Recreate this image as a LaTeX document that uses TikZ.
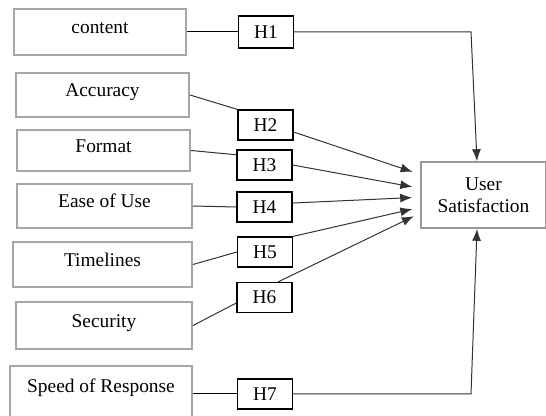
\documentclass[tikz,border=0pt]{standalone}
\usepackage{fontspec}
\setmainfont{Liberation Serif}
\usetikzlibrary{arrows.meta}

\begin{document}
\begin{tikzpicture}[x=0.5pt, y=-0.5pt, %pixel-like units
  font=\fontsize{9.7}{11}\selectfont,
  factor/.style={draw=black!35, line width=1pt, inner sep=0pt, text height=7pt, text depth=5pt},
  hyp/.style={draw, line width=0.6pt, inner sep=0pt, minimum width=27.5pt, minimum height=15pt},
  link/.style={draw=black!80, line width=0.5pt},
  arr/.style={link, -{Latex[length=6pt,width=4.5pt]}}]
  \useasboundingbox (0,0) rectangle (546,416);

  % Factor boxes
  \node[factor, minimum width=86pt, minimum height=23pt] (content) at (100,32) {content};
  \node[factor, minimum width=86.5pt, minimum height=22pt] (accuracy) at (102.5,95) {Accuracy};
  \node[factor, minimum width=86.5pt, minimum height=20.5pt] (format) at (103.5,150.5) {Format};
  \node[factor, minimum width=87.5pt, minimum height=22pt] (ease) at (104.5,206) {Ease of Use};
  \node[factor, minimum width=89.5pt, minimum height=22.5pt] (timelines) at (102.5,264.5) {Timelines};
  \node[factor, minimum width=88pt, minimum height=23.5pt] (security) at (104,325.5) {Security};
  \node[factor, minimum width=91pt, minimum height=28pt, text depth=8pt] (speed) at (101,394) {Speed of Response};

  % Hypothesis boxes
  \node[hyp, minimum height=16pt] (h1) at (266,32) {H1};
  \node[hyp] (h2) at (265.5,125) {H2};
  \node[hyp] (h3) at (264.5,165) {H3};
  \node[hyp] (h4) at (264.5,207) {H4};
  \node[hyp] (h5) at (265,252) {H5};
  \node[hyp] (h6) at (264.5,297.5) {H6};
  \node[hyp] (h7) at (265,394) {H7};

  % Dependent variable
  \node[draw=black!40, line width=0.8pt, minimum width=62.5pt, minimum height=33pt, align=center] (user) at (483.5,195) {User\\Satisfaction};

  % Factors to hypotheses
  \draw[link, draw=black] (content.east) -- (h1.west);
  \draw[link] (accuracy.east) -- (h2.north west);
  \draw[link] (format.east) -- (h3.160);
  \draw[link] (ease.east) -- (h4.west);
  \draw[link] (timelines.east) -- (h5.west);
  \draw[link] (security.east) -- (h6.191);
  \draw[link, draw=black] (speed.east) -- (h7.west);

  % Hypotheses to user satisfaction
  \coordinate (top) at (471,32);
  \coordinate (bottom) at (471,394);
  \draw[arr] (h1.east) -- (top) -- ([xshift=-3.25pt]user.north);
  \draw[arr] (h7.east) -- (bottom) -- ([xshift=-3.25pt]user.south);
  \draw[arr, shorten >=4pt] (h2.-14) -- (user.162);
  \draw[arr, shorten >=4pt] (h3.east) -- (user.174);
  \draw[arr, shorten >=4pt] (h4.8) -- (user.182);
  \draw[arr, shorten >=4pt] (h5.north east) -- (user.191);
  \draw[arr, shorten >=3.5pt] (h6.49) -- (user.196);

\end{tikzpicture}
\end{document}
